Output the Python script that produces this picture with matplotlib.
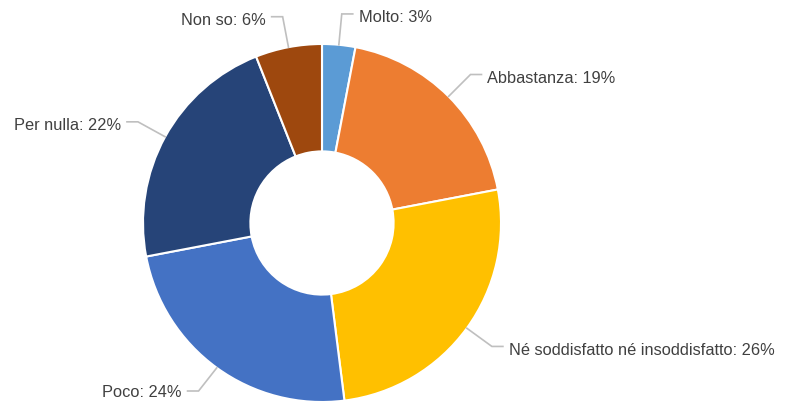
import numpy as np
import matplotlib
matplotlib.use("Agg")
import matplotlib.pyplot as plt

categorie = ["Molto", "Abbastanza", "Né soddisfatto né insoddisfatto",
             "Poco", "Per nulla", "Non so"]
percentuali = [3, 19, 26, 24, 22, 6]
colori = ["#5b9bd5", "#ed7d31", "#ffc000", "#4472c4", "#264478", "#9e480e"]

W, H = 785, 402
cx, cy = 322, H - 224
R = 179

plt.rcParams["font.family"] = ["Liberation Sans", "DejaVu Sans"]
fig = plt.figure(figsize=(W / 100, H / 100), dpi=100)
ax = fig.add_axes([0, 0, 1, 1])

ax.pie(percentuali, colors=colori, startangle=90, counterclock=False,
       center=(cx, cy), radius=R,
       wedgeprops=dict(width=R * 0.6, edgecolor="white", linewidth=1.5))

# etichette con linee guida (gomito a ~1.17R, poi tratto orizzontale)
tot = sum(percentuali)
cum = 0
for nome, p in zip(categorie, percentuali):
    mid = np.deg2rad((cum + p / 2) / tot * 360)  # angolo dall'alto, orario
    cum += p
    s, c = np.sin(mid), np.cos(mid)
    x0, y0 = cx + R * s, cy + R * c
    x1, y1 = cx + 210 * s, cy + 210 * c
    y1 = max(y1, 10)  # non uscire dal bordo inferiore
    lato = 1 if s >= 0 else -1
    x2 = x1 + lato * 11
    ax.plot([x0, x1, x2], [y0, y1, y1], color="#bfbfbf", lw=1.2,
            solid_joinstyle="miter", clip_on=False)
    ax.text(x2 + lato * 6, max(y1 - 3, 9), f"{nome}: {p}%", fontsize=11.8,
            color="#404040", va="center", ha="left" if lato > 0 else "right")

ax.set_xlim(0, W)
ax.set_ylim(0, H)
ax.set_aspect("equal")
ax.axis("off")
fig.savefig("out.png", dpi=100)
